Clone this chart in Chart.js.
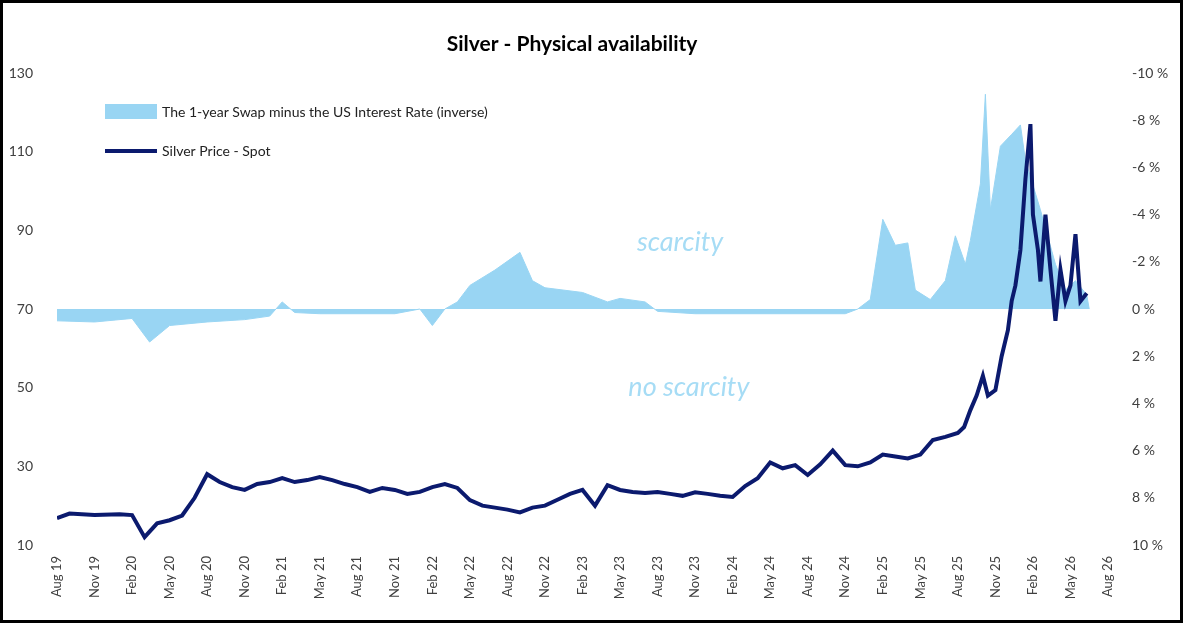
<!DOCTYPE html>
<html>
<head>
<meta charset="utf-8">
<script src="https://cdn.jsdelivr.net/npm/chart.js@4"></script>
<style>
  html, body { margin: 0; padding: 0; background: #fff; }
  #wrap { width: 1183px; height: 627px; }
</style>
</head>
<body>
<div id="wrap"><canvas id="silverChart" width="1183" height="627"></canvas></div>
<script>
// x positions are months since Aug 2019
const tickLabels = ['Aug 19','Nov 19','Feb 20','May 20','Aug 20','Nov 20','Feb 21','May 21','Aug 21','Nov 21',
  'Feb 22','May 22','Aug 22','Nov 22','Feb 23','May 23','Aug 23','Nov 23','Feb 24','May 24','Aug 24','Nov 24',
  'Feb 25','May 25','Aug 25','Nov 25','Feb 26','May 26','Aug 26'];

const priceMonths = [0, 1, 3, 5, 6, 7, 8, 9, 10, 11, 12, 13, 14, 15, 16, 17, 18, 19, 20, 21, 22, 23, 24, 25, 26, 27, 28, 29,
  30, 31, 32, 33, 34, 35, 36, 37, 38, 39, 40, 41, 42, 43, 44, 45, 46, 47, 48, 49, 50, 51, 52, 53, 54, 55, 56, 57, 58, 59,
  60, 61, 62, 63, 64, 65, 66, 67, 68, 69, 70, 71, 72, 72.5, 73, 73.5, 74, 74.4, 75, 75.5, 76, 76.3, 76.6, 77, 77.4, 77.8,
  78, 78.4, 78.6, 79, 79.4, 79.8, 80.2, 80.6, 81, 81.4, 81.8, 82.3];
const priceValues = [16.8, 18, 17.6, 17.8, 17.6, 12, 15.5, 16.3, 17.5, 22, 28, 26, 24.7, 24, 25.5, 26, 27, 26, 26.5, 27.3,
  26.5, 25.5, 24.7, 23.5, 24.5, 24, 23, 23.5, 24.7, 25.5, 24.5, 21.4, 20, 19.5, 19, 18.3, 19.5, 20, 21.5, 23, 24, 20, 25.2,
  24, 23.5, 23.2, 23.5, 23, 22.5, 23.4, 23, 22.5, 22.2, 25, 27, 31, 29.5, 30.3, 27.8, 30.5, 34, 30.3, 30, 31, 33, 32.5, 32,
  33, 36.7, 37.5, 38.5, 40, 44.3, 48, 53, 48, 49.4, 58, 64.6, 72, 76, 85, 103, 117, 94, 85, 77, 94, 80, 67, 80, 72, 76, 89,
  72, 74];

const swapMonths = [0, 3, 6, 7.4, 9, 12, 15, 17, 18, 19, 21, 27, 29, 30, 31, 32, 33, 35, 37, 38, 39, 42, 44, 45, 47, 48, 51,
  63, 64, 65, 66, 67, 68, 68.6, 69.8, 71, 71.8, 72.6, 73, 73.8, 74.2, 74.6, 75.4, 76.3, 77, 77.4, 78.6, 79.8, 80.6, 81.4,
  82.3, 82.5];
const swapValues = [0.5, 0.55, 0.4, 1.4, 0.7, 0.55, 0.45, 0.3, -0.3, 0.15, 0.2, 0.2, 0, 0.7, 0, -0.3, -1, -1.65, -2.4, -1.2,
  -0.9, -0.7, -0.3, -0.45, -0.3, 0.1, 0.2, 0.2, 0, -0.4, -3.8, -2.7, -2.8, -0.8, -0.4, -1.2, -3.1, -1.9, -2.9, -5.3, -9.1,
  -4.2, -6.9, -7.4, -7.8, -6.3, -4.2, -1.9, -0.8, -1.2, -0.6, 0];

const FONT = 'Lato, "Open Sans", sans-serif';
const LIGHT_BLUE = '#99d5f3';
const NAVY = '#0b1a6e';

function toPoints(xs, ys) {
  return xs.map((x, i) => ({ x: x, y: ys[i] }));
}

const extrasPlugin = {
  id: 'extras',
  afterDraw(chart) {
    const ctx = chart.ctx;
    const xs = chart.scales.x;
    const ys = chart.scales.y;
    ctx.save();
    // title
    ctx.fillStyle = '#000';
    ctx.font = `bold 21px ${FONT}`;
    ctx.textAlign = 'center';
    ctx.textBaseline = 'middle';
    ctx.fillText('Silver - Physical availability', 572, 44);
    // annotations
    ctx.fillStyle = '#a6dcf5';
    ctx.font = `italic 27px ${FONT}`;
    ctx.fillText('scarcity', xs.getPixelForValue(49.8), ys.getPixelForValue(87));
    ctx.fillText('no scarcity', xs.getPixelForValue(50.5), ys.getPixelForValue(50));
    // legend
    ctx.textAlign = 'left';
    ctx.font = `14px ${FONT}`;
    ctx.fillStyle = LIGHT_BLUE;
    ctx.fillRect(105, 104, 52, 15);
    ctx.fillStyle = '#222';
    ctx.fillText('The 1-year Swap minus the US Interest Rate (inverse)', 162, 112);
    ctx.strokeStyle = NAVY;
    ctx.lineWidth = 4;
    ctx.beginPath();
    ctx.moveTo(105, 151);
    ctx.lineTo(157, 151);
    ctx.stroke();
    ctx.fillText('Silver Price - Spot', 162, 151);
    // frame
    ctx.strokeStyle = '#000';
    ctx.lineWidth = 3;
    ctx.strokeRect(1.5, 1.5, 1180, 620);
    ctx.restore();
  }
};

const chart = new Chart(document.getElementById('silverChart').getContext('2d'), {
  data: {
    datasets: [{
      type: 'line',
      label: 'Silver Price - Spot',
      data: toPoints(priceMonths, priceValues),
      yAxisID: 'y',
      borderColor: NAVY,
      borderWidth: 4,
      pointRadius: 0,
      tension: 0,
      order: 1
    }, {
      type: 'line',
      label: 'The 1-year Swap minus the US Interest Rate (inverse)',
      data: toPoints(swapMonths, swapValues),
      yAxisID: 'y2',
      borderColor: LIGHT_BLUE,
      borderWidth: 1,
      backgroundColor: LIGHT_BLUE,
      fill: { value: 0 },
      pointRadius: 0,
      tension: 0,
      order: 2
    }]
  },
  options: {
    responsive: false,
    animation: false,
    layout: { padding: { top: 73, bottom: 0, left: 0, right: 0 } },
    plugins: { legend: { display: false }, tooltip: { enabled: false } },
    scales: {
      x: {
        type: 'linear',
        min: 0,
        max: 84,
        grid: { display: false },
        border: { display: false },
        afterFit: s => { s.height = 82; },
        afterBuildTicks: s => { s.ticks = tickLabels.map((_, i) => ({ value: i * 3 })); },
        ticks: {
          autoSkip: false,
          minRotation: 90,
          maxRotation: 90,
          color: '#404040',
          font: { family: FONT, size: 13 },
          callback: v => tickLabels[v / 3]
        }
      },
      y: {
        position: 'left',
        min: 10,
        max: 130,
        grid: { display: false },
        border: { display: false },
        afterFit: s => { s.width = 57; },
        ticks: { stepSize: 20, color: '#404040', font: { family: FONT, size: 14 }, padding: 16 }
      },
      y2: {
        position: 'right',
        min: -10,
        max: 10,
        reverse: true,
        grid: { display: false },
        border: { display: false },
        afterFit: s => { s.width = 75; },
        ticks: { stepSize: 2, color: '#404040', font: { family: FONT, size: 14 }, padding: 16, callback: v => `${v} %` }
      }
    }
  },
  plugins: [extrasPlugin]
});
</script>
</body>
</html>
